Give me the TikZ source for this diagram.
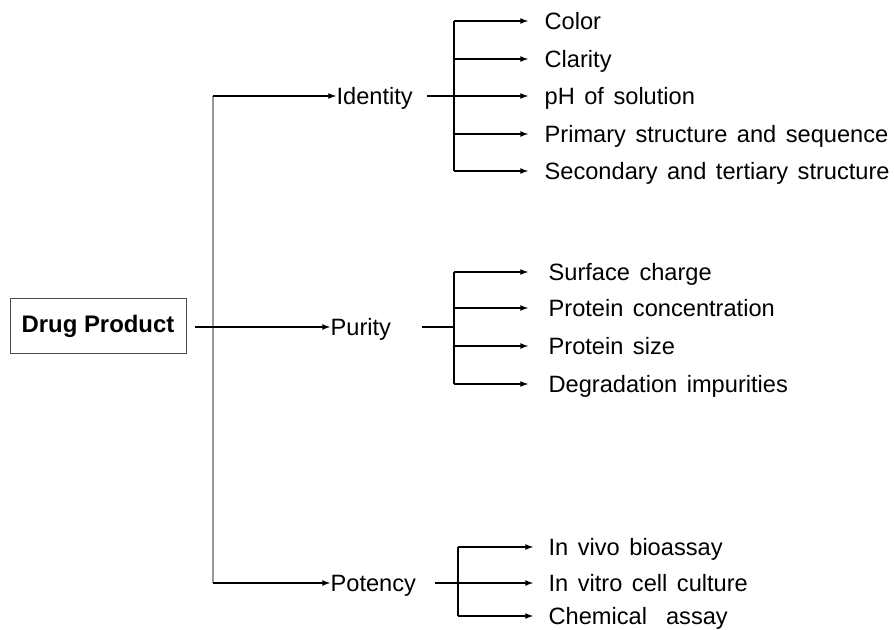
\documentclass[tikz,border=0pt]{standalone}
\usepackage{fontspec}
\setmainfont[WordSpace=1.45]{Liberation Sans}
\newfontfamily\boxfont{Liberation Sans}
\usetikzlibrary{arrows,positioning}
\tikzset{
  prodbox/.style={draw=black!70,line width=0.6pt,minimum width=4.4cm,minimum height=1.375cm,font=\fontsize{17}{20}\boxfont\bfseries},
  attrnode/.style={anchor=west,inner xsep=0pt,inner ysep=0pt,text height=0.42cm,text depth=0pt},
  testnode/.style={anchor=west,inner xsep=0.4cm,inner ysep=0pt,text height=0.42cm,text depth=0pt},
  spine/.style={draw=black!40,line width=0.9pt},
  bar/.style={line width=0.9pt}
}

\begin{document}
\begin{tikzpicture}[x=0.025cm,y=-0.025cm,>=latex,line width=0.9pt,font=\fontsize{16.8}{20}\selectfont]
        \useasboundingbox (0,0) rectangle (894,630);
        % Main product and its three attributes
        \node[prodbox] (dp) at (98,326) {Drug Product};
        \node[attrnode] (identity) at (336,96) {Identity};
        \node[attrnode] (purity) at (330,327) {Purity};
        \node[attrnode] (potency) at (330,583) {Potency};
        \coordinate (s1) at (213,96);
        \coordinate (s3) at (213,583);
        \draw[spine] (s1) -- (s3);
        \draw[->,shorten <=0.225cm] (dp.east |- purity.west) -- (purity);
        \draw[->] (s1) -- (identity);
        \draw[->] (s3) -- (potency);
        % Identity tests
        \node[testnode] (color) at (528,21) {Color};
        \node[testnode] (clarity) at (528,59) {Clarity};
        \node[testnode] (ph) at (528,96) {pH of solution};
        \node[testnode] (primary) at (528,134) {Primary structure and sequence};
        \node[testnode] (secondary) at (528,171) {Secondary and tertiary structure};
        \coordinate (i0) at (454,96);
        \draw[bar] (identity.east) ++(14,0) -- (i0);
        \draw[bar] (454,21) coordinate (i1) -- (454,171) coordinate (i5);
        \draw[->] (i1) -- (color);
        \draw[->] (i1 |- clarity) -- (clarity);
        \draw[->] (i0) -- (ph);
        \draw[->] (i1 |- primary) -- (primary);
        \draw[->] (i5) -- (secondary);
        % Purity tests
        \node[testnode,inner xsep=0.5cm] (charge) at (528,272) {Surface charge};
        \node[testnode,inner xsep=0.5cm] (conc) at (528,308) {Protein concentration};
        \node[testnode,inner xsep=0.5cm] (size) at (528,346) {Protein size};
        \node[testnode,inner xsep=0.5cm] (degr) at (528,384) {Degradation impurities};
        \coordinate (p0) at (454,327);
        \draw[bar] (purity.east) ++(30,0) -- (p0);
        \draw[bar] (454,272) coordinate (p1) -- (454,384) coordinate (p4);
        \draw[->] (p1) -- (charge);
        \draw[->] (p1 |- conc) -- (conc);
        \draw[->] (p1 |- size) -- (size);
        \draw[->] (p4) -- (degr);
        % Potency tests
        \node[testnode,inner xsep=0.375cm] (vivo) at (533,547) {In vivo bioassay};
        \node[testnode,inner xsep=0.375cm] (vitro) at (533,583) {In vitro cell culture};
        \node[testnode,inner xsep=0.375cm] (chem) at (533,616) {Chemical\ \ assay};
        \coordinate (t0) at (458,583);
        \draw[bar] (potency.east) ++(18,0) -- (t0);
        \draw[bar] (458,547) coordinate (t1) -- (458,616) coordinate (t3);
        \draw[->] (t1) -- (vivo);
        \draw[->] (t0) -- (vitro);
        \draw[->] (t3) -- (chem);
      \end{tikzpicture}
\end{document}
